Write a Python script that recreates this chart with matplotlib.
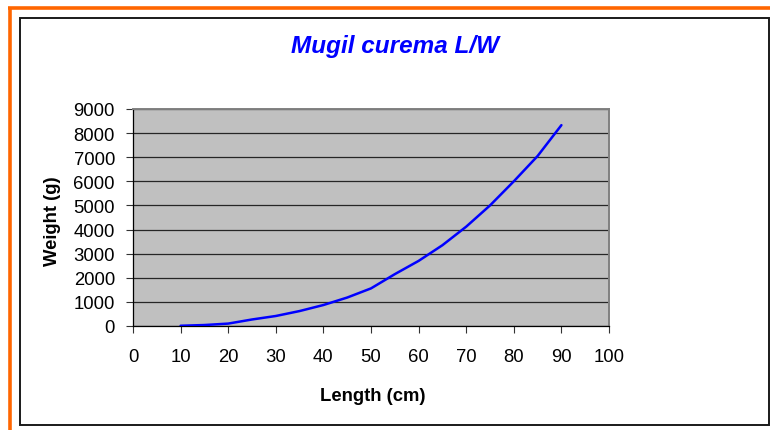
import matplotlib
matplotlib.use("Agg")
import matplotlib.pyplot as plt
from matplotlib.lines import Line2D
from matplotlib.patches import Rectangle

# Data
length_cm = [10, 15, 20, 25, 30, 35, 40, 45, 50, 55, 60, 65, 70, 75, 80, 85, 90]
weight_g = [10, 40, 100, 270, 415, 620, 870, 1180, 1560, 2150, 2700, 3350, 4120, 5000, 6000, 7050, 8330]
x_ticks = [0, 10, 20, 30, 40, 50, 60, 70, 80, 90, 100]
y_ticks = [0, 1000, 2000, 3000, 4000, 5000, 6000, 7000, 8000, 9000]
title = "Mugil curema L/W"
x_label = "Length (cm)"
y_label = "Weight (g)"

W, H = 770, 431
plt.rcParams['font.family'] = ['Liberation Sans', 'DejaVu Sans']
fig = plt.figure(figsize=(W / 100, H / 100), dpi=100)
fig.patch.set_facecolor('white')

def fx(px):
    return px / W

def fy(py):
    return 1 - py / H

# Orange outer border (top and left)
fig.add_artist(Line2D([fx(8), fx(W)], [fy(8.7), fy(8.7)], color='#FF6600', lw=2.6,
                      transform=fig.transFigure, solid_capstyle='butt'))
fig.add_artist(Line2D([fx(10.3), fx(10.3)], [fy(7.5), fy(H)], color='#FF6600', lw=2.6,
                      transform=fig.transFigure, solid_capstyle='butt'))

# Black chart frame
fig.add_artist(Rectangle((fx(20), fy(425.5)), fx(768.5) - fx(20), fy(19) - fy(425.5),
                         fill=False, edgecolor='#1a1a1a', lw=1.4, transform=fig.transFigure))

# Plot area
left, right, top, bottom = 133, 609, 110, 327
ax = fig.add_axes([fx(left), fy(bottom), fx(right) - fx(left), fy(top) - fy(bottom)])
ax.set_facecolor('#C0C0C0')
ax.plot(length_cm, weight_g, color='#0000FF', lw=1.8, solid_joinstyle='round',
        solid_capstyle='round', zorder=3)
ax.set_xlim(0, 100)
ax.set_ylim(0, 9000)
ax.set_xticks(x_ticks)
ax.set_yticks(y_ticks)
ax.set_xticklabels([str(v) for v in x_ticks])
ax.set_yticklabels([str(v) for v in y_ticks])
ax.grid(axis='y', color='#262626', lw=0.9, zorder=1)
ax.set_axisbelow(True)
ax.tick_params(axis='both', direction='out', length=5, width=0.8, color='#333333',
               labelsize=13.3, labelcolor='black')
ax.tick_params(axis='y', pad=8)
ax.tick_params(axis='x', pad=11)
ax.spines['left'].set_color('#000000')
ax.spines['left'].set_linewidth(0.9)
ax.spines['bottom'].set_color('#000000')
ax.spines['bottom'].set_linewidth(0.9)
ax.spines['top'].set_color('#808080')
ax.spines['top'].set_linewidth(1.4)
ax.spines['right'].set_color('#808080')
ax.spines['right'].set_linewidth(1.4)

# Texts
fig.text(fx(395), fy(52.7), title, ha='center', va='baseline', fontsize=17.5,
         fontweight='bold', fontstyle='italic', color='#0000FF')
fig.text(fx(372.5), fy(401.5), x_label, ha='center', va='baseline', fontsize=13.3,
         fontweight='bold', color='black')
fig.text(fx(52.5), fy(221), y_label, ha='center', va='center', rotation=90, fontsize=13.3,
         fontweight='bold', color='black')

fig.savefig('out.png', dpi=100, facecolor='white')
